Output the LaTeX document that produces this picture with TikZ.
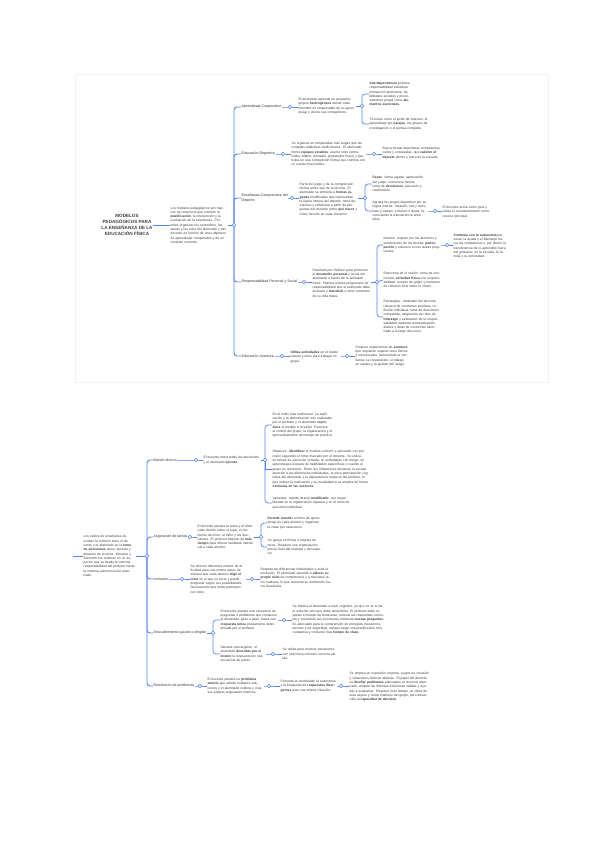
\documentclass[tikz,border=0pt]{standalone}
\usepackage{fontspec}
\setmainfont{Liberation Sans}
\usetikzlibrary{calc}
\definecolor{linkblue}{RGB}{82,132,238}
\tikzset{
  txt/.style={anchor=west, align=left, text width=#1, inner sep=0.5pt,
    font=\fontsize{3.3}{4.3}\selectfont, text=black!78},
  lab/.style={anchor=west, align=left, inner sep=0.5pt,
    font=\fontsize{3.6}{4.6}\selectfont, text=black!80},
  link/.style={draw=linkblue, line width=0.7pt},
  knob/.style={circle, draw=linkblue, fill=white, line width=0.6pt,
    inner sep=0pt, minimum size=3.6pt},
}
\begin{document}
\begin{tikzpicture}[x=1pt,y=-1pt]
\useasboundingbox (0,0) rectangle (600,848);
\draw[black!5, line width=1pt] (75,75) rectangle (548,382);

% primer mapa
\node[align=center, inner sep=0.5pt, text=black!75,
  font=\fontsize{4.6}{6.2}\selectfont\bfseries] (t) at (127,225)
  {MODELOS\\PEDAGÓGICOS PARA\\LA ENSEÑANZA DE LA\\EDUCACIÓN FÍSICA};
\node[txt=57pt] (m) at (170,225) {Los modelos pedagógicos son marcos de referencia que orientan la \textbf{planificación}, la intervención y la evaluación de la enseñanza. Permiten organizar los contenidos, las tareas y los roles del alumnado y del docente en función de unos objetivos de aprendizaje compartidos y de un contexto concreto.};
\coordinate (j) at (234,225);

\node[lab] (b1) at (241,107) {Aprendizaje Cooperativo};
\coordinate (c1) at (290,107);
\node[txt=57pt] (a1) at (298,106) {El alumnado aprende en pequeños grupos \textbf{heterogéneos} donde cada miembro es responsable de su aprendizaje y del de sus compañeros.};
\coordinate (c11) at (362,106);
\node[txt=45pt] (a11) at (369,94) {\textbf{Interdependencia} positiva, responsabilidad individual, interacción promotora, habilidades sociales y procesamiento grupal como \textbf{elementos esenciales}.};
\node[txt=60pt] (a12) at (369,124) {Técnicas como el puzle de Aronson, el aprendizaje por \textbf{parejas}, los grupos de investigación o el piensa-comparte.};

\node[lab] (b2) at (241,154) {Educación Deportiva};
\coordinate (c2) at (283,154);
\node[txt=74pt] (a2) at (291,154) {Se organiza en temporadas más largas que las unidades didácticas tradicionales. El alumnado forma \textbf{equipos estables}, asume roles (entrenador, árbitro, anotador, preparador físico) y participa en una competición formal que culmina con un evento final festivo.};
\coordinate (c21) at (374,154);
\node[txt=58pt] (a21) at (382,153) {Busca formar deportistas competentes, cultos y entusiastas, que \textbf{valoren el deporte} dentro y fuera de la escuela.};

\node[lab] (b3) at (241,198) {Enseñanza Comprensiva del\\Deporte};
\coordinate (c3) at (292,198);
\node[txt=58pt] (a3) at (299,199) {Parte del juego y de la comprensión táctica antes que de la técnica. El alumnado se enfrenta a \textbf{formas jugadas} modificadas que representan la lógica interna del deporte, toma decisiones y reflexiona a partir de preguntas del docente sobre \textbf{qué hacer} y cómo hacerlo en cada situación.};
\coordinate (c31) at (365,198);
\node[txt=55pt] (a31) at (372,184) {\textbf{Fases}: forma jugada, apreciación del juego, conciencia táctica, toma de \textbf{decisiones}, ejecución y rendimiento.};
\node[txt=55pt] (a32) at (372,211) {Agrupa los juegos deportivos por su lógica interna: invasión, red y muro, bate y campo, y blanco o diana, favoreciendo la transferencia entre ellos.};
\coordinate (c32) at (435,211);
\node[txt=50pt] (a321) at (442,212) {El docente actúa como guía y utiliza el cuestionamiento como recurso principal.};

\node[lab] (b4) at (241,282) {Responsabilidad Personal y Social};
\coordinate (c4) at (304,282);
\node[txt=58pt] (a4) at (312,283) {Diseñado por Hellison para promover el \textbf{desarrollo personal} y social del alumnado a través de la actividad física. Plantea niveles progresivos de responsabilidad que el alumnado debe alcanzar y \textbf{transferir} a otros contextos de su vida diaria.};
\coordinate (c41) at (377,282);
\node[txt=57pt] (a41) at (383,245) {Niveles: respeto por los derechos y sentimientos de los demás; \textbf{participación} y esfuerzo en las tareas propuestas.};
\coordinate (c411) at (447,245);
\node[txt=55pt] (a411) at (453,246) {\textbf{Continúa con la autonomía} personal, la ayuda y el liderazgo hacia los compañeros y, por último, la transferencia de lo aprendido fuera del gimnasio, en la escuela, la familia y la comunidad.};
\node[txt=57pt] (a42) at (383,280) {Estructura de la sesión: toma de conciencia, \textbf{actividad física} con responsabilidad, reunión de grupo y momento de reflexión final sobre lo vivido.};
\node[txt=57pt] (a43) at (383,317) {Estrategias: modelado del docente, refuerzo de conductas positivas, reflexión individual, toma de decisiones compartida, asignación de roles de \textbf{liderazgo} y evaluación de la responsabilidad mediante autoevaluación, diarios y listas de control del alumnado a lo largo del curso.};

\node[lab] (b5) at (241,356) {Educación Aventura};
\coordinate (c5) at (282,356);
\node[txt=50pt] (a5) at (290,357) {\textbf{Utiliza actividades} en el medio natural y retos para trabajar en grupo.};
\coordinate (c51) at (347,356);
\node[txt=53pt] (a51) at (355,356) {Propone experiencias de \textbf{aventura} que requieren superar retos físicos y emocionales, fomentando la confianza, la cooperación, el trabajo en equipo y la gestión del riesgo.};

\draw[link] (t.east) -- (m.west);
\draw[link] (m.east) -- (j);
\foreach \b in {b1,b2,b3,b4,b5}
  \draw[link, line width=0.9pt, rounded corners=3pt] (j) |- (\b.west);
\draw[link] (b1.east) -- (c1) -- (c1 -| a1.west);
\draw[link] (a1.east |- c11) -- (c11);
\draw[link, rounded corners=3pt] (a11.west) -| (c11) |- (a12.west);
\draw[link] (b2.east |- c2) -- (c2) -- (c2 -| a2.west);
\draw[link] (a2.east |- c21) -- (c21) -- (c21 -| a21.west);
\draw[link] (b3.east |- c3) -- (c3) -- (c3 -| a3.west);
\draw[link] (a3.east |- c31) -- (c31);
\draw[link, rounded corners=3pt] (a31.west) -| (c31) |- (a32.west);
\draw[link] (a32.east |- c32) -- (c32) -- (c32 -| a321.west);
\draw[link] (b4.east) -- (c4) -- (c4 -| a4.west);
\draw[link] (a4.east |- c41) -- (c41);
\draw[link, rounded corners=3pt] (a41.west) -| (c41) |- (a43.west);
\draw[link] (c41) -- (a42.west);
\draw[link] (a41.east |- c411) -- (c411) -- (c411 -| a411.west);
\draw[link] (b5.east) -- (c5) -- (c5 -| a5.west);
\draw[link] (a5.east |- c51) -- (c51) -- (c51 -| a51.west);

% segundo mapa
\coordinate (s) at (73,556);
\node[txt=52pt] (n) at (83,556) {Los estilos de enseñanza describen la relación entre el docente y el alumnado en la \textbf{toma de decisiones} antes, durante y después de la tarea. Mosston y Ashworth los ordenan en un espectro que va desde la máxima responsabilidad del profesor hasta la máxima autonomía del alumnado.};
\coordinate (k) at (147,556);

\node[lab] (d1) at (153,460) {Mando directo};
\coordinate (e1) at (196,460);
\node[txt=57pt] (f1) at (203,460) {El docente toma todas las decisiones y el alumnado \textbf{ejecuta}.};
\coordinate (e11) at (265,460);
\node[txt=63pt] (f11) at (272,425) {Es el estilo más tradicional. La explicación y la demostración son realizadas por el profesor y el alumnado \textbf{reproduce} el modelo a la señal. Favorece el control del grupo, la organización y el aprovechamiento del tiempo de práctica.};
\node[txt=97pt] (f12) at (272,469) {Objetivos: \textbf{identificar} el modelo correcto y ejecutarlo con precisión siguiendo el ritmo marcado por el docente. Se utiliza en tareas de ejecución cerrada, en actividades con riesgo, en aprendizajes iniciales de habilidades específicas o cuando el grupo es numeroso. Entre sus limitaciones destacan la escasa atención a las diferencias individuales, la poca participación cognitiva del alumnado y la dependencia respecto del profesor, lo que reduce la motivación y la creatividad si se emplea de forma \textbf{exclusiva en las sesiones}.};
\node[txt=77pt] (f13) at (272,503) {Variantes: mando directo \textbf{modificado}, con mayor libertad en la organización espacial y en el ritmo de ejecución individual.};

\node[lab] (d2) at (153,537) {Asignación de tareas};
\coordinate (e2) at (190,537);
\node[txt=56pt] (f2) at (197,537) {El docente plantea la tarea y el alumnado decide sobre el lugar, el momento de inicio, el ritmo y los descansos. El profesor dispone de \textbf{más tiempo} para ofrecer feedback individual a cada alumno.};
\coordinate (e21) at (261,537);
\node[txt=53pt] (f21) at (267,523) {\textbf{Permite atender} al ritmo de aprendizaje de cada alumno y organizar la clase por estaciones.};
\node[txt=55pt] (f22) at (267,547) {Se apoya en fichas o tarjetas de tarea. Requiere una organización previa clara del material y del espacio.};

\node[lab] (d3) at (153,579) {Inclusión};
\coordinate (e3) at (182,579);
\node[txt=55pt] (f3) at (190,579) {Se ofrecen diferentes niveles de dificultad para una misma tarea, de manera que cada alumno \textbf{elige el nivel} en el que se inicia y puede progresar según sus posibilidades, favoreciendo que todos participen con éxito.};
\coordinate (e31) at (252,579);
\node[txt=71pt] (f31) at (260,578) {Respeta las diferencias individuales y evita la exclusión. El alumnado aprende a \textbf{valorar su propio nivel} de competencia y a marcarse retos realistas, lo que aumenta su motivación hacia la práctica.};

\node[lab] (d4) at (153,633) {Descubrimiento guiado o dirigido};
\coordinate (e4) at (213,633);
\node[txt=57pt] (f41) at (220,620) {El docente plantea una secuencia de preguntas o problemas que conducen al alumnado, paso a paso, hacia una \textbf{respuesta única} previamente determinada por el profesor.};
\coordinate (e41) at (284,620);
\node[txt=92pt] (f411) at (292,620) {Se implica al alumnado a nivel cognitivo, ya que no se le da la solución sino que debe descubrirla. El profesor debe respetar el tiempo de búsqueda, reforzar las respuestas correctas y reconducir las incorrectas mediante \textbf{nuevas preguntas}. Es adecuado para la comprensión de principios mecánicos, tácticos y de seguridad, aunque exige una planificación muy cuidadosa y consume más \textbf{tiempo de clase}.};
\node[txt=45pt] (f42) at (220,654) {Variante convergente: el alumnado \textbf{descubre por sí mismo} la respuesta sin una secuencia de pistas.};
\coordinate (e42) at (273,654);
\node[txt=56pt] (f421) at (282,654) {Se utiliza para resolver situaciones con una única solución correcta válida.};

\node[lab] (d5) at (153,686) {Resolución de problemas};
\coordinate (e5) at (200,686);
\node[txt=56pt] (f5) at (207,686) {El docente plantea un \textbf{problema abierto} que admite múltiples soluciones y el alumnado explora y crea sus propias respuestas motrices.};
\coordinate (e51) at (269,686);
\node[txt=56pt] (f51) at (280,686) {Fomenta la creatividad, la autonomía y la búsqueda de \textbf{respuestas divergentes} ante una misma situación.};
\coordinate (e52) at (341,686);
\node[txt=80pt] (f511) at (349,687) {Se emplea en expresión corporal, juegos de creación y situaciones tácticas abiertas. El papel del docente es \textbf{diseñar problemas} adecuados al nivel del alumnado, aceptar las distintas soluciones válidas y ayudar a evaluarlas. Requiere más tiempo, un clima de aula seguro y cierta madurez del grupo, pero desarrolla la \textbf{capacidad de decisión}.};

\draw[link] (s) -- (n.west);
\draw[link] (n.east) -- (k);
\foreach \d in {d1,d2,d3,d4,d5}
  \draw[link, line width=0.9pt, rounded corners=3pt] (k) |- (\d.west);
\draw[link] (d1.east) -- (e1) -- (e1 -| f1.west);
\draw[link] (f1.east |- e11) -- (e11);
\draw[link, rounded corners=3pt] (f11.west) -| (e11) |- (f13.west);
\draw[link] (e11) |- (f12.west);
\draw[link] (d2.east) -- (e2) -- (e2 -| f2.west);
\draw[link] (f2.east |- e21) -- (e21);
\draw[link, rounded corners=3pt] (f21.west) -| (e21) |- (f22.west);
\draw[link] (d3.east) -- (e3) -- (e3 -| f3.west);
\draw[link] (f3.east |- e31) -- (e31) -- (e31 -| f31.west);
\draw[link] (d4.east) -- (e4);
\draw[link, rounded corners=3pt] (f41.west) -| (e4) |- (f42.west);
\draw[link] (f41.east |- e41) -- (e41) -- (e41 -| f411.west);
\draw[link] (f42.east |- e42) -- (e42) -- (e42 -| f421.west);
\draw[link] (d5.east) -- (e5) -- (e5 -| f5.west);
\draw[link] (f5.east |- e51) -- (e51) -- (e51 -| f51.west);
\draw[link] (f51.east |- e52) -- (e52) -- (e52 -| f511.west);

\foreach \c in {j,c1,c11,c2,c21,c3,c31,c32,c4,c41,c411,c5,c51,
  k,e1,e11,e2,e21,e3,e31,e4,e41,e42,e5,e51,e52}
  \node[knob] at (\c) {};
\end{tikzpicture}
\end{document}
